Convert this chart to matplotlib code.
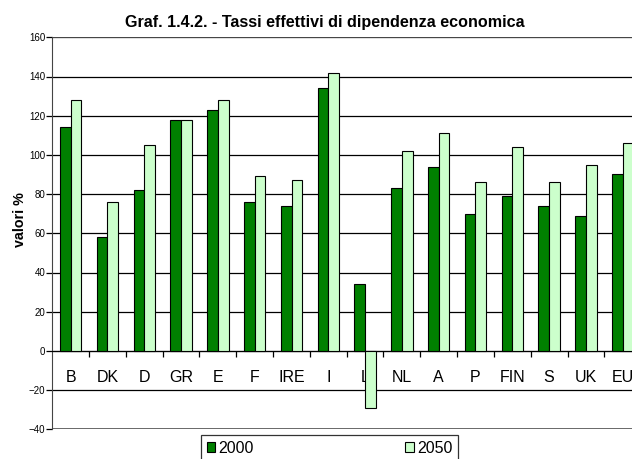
import matplotlib
matplotlib.use("Agg")
import matplotlib.pyplot as plt
import numpy as np
from matplotlib.ticker import MultipleLocator, FixedLocator

plt.rcParams['font.family'] = ['Liberation Sans', 'DejaVu Sans']

categories = ["B", "DK", "D", "GR", "E", "F", "IRE", "I", "L", "NL", "A", "P", "FIN", "S", "UK", "EU"]
v2000 = [114, 58, 82, 118, 123, 76, 74, 134, 34, 83, 94, 70, 79, 74, 69, 90]
v2050 = [128, 76, 105, 118, 128, 89, 87, 142, -29, 102, 111, 86, 104, 86, 95, 106]
series_names = ["2000", "2050"]
title = "Graf. 1.4.2. - Tassi effettivi di dipendenza economica"
ylabel = "valori %"

W, H = 632, 459
fig = plt.figure(figsize=(W / 100, H / 100), dpi=100)
left, right = 52.3, 632
top, bottom = 37.3, 429.3
ax = fig.add_axes([left / W, 1 - bottom / H, (right - left) / W, (bottom - top) / H])

x = np.arange(len(categories))
bw = 0.29
b1 = ax.bar(x - bw / 2, v2000, bw, color="#008000", edgecolor="black", linewidth=0.8, zorder=3)
b2 = ax.bar(x + bw / 2, v2050, bw, color="#CCFFCC", edgecolor="black", linewidth=0.8, zorder=3)

cat_w = 36.8
ax.set_xlim(-0.5, -0.5 + (right - left) / cat_w)
ax.set_ylim(-40, 160)
ax.yaxis.set_major_locator(MultipleLocator(20))
ax.grid(axis="y", color="black", linewidth=0.9, zorder=1)
ax.set_axisbelow(True)

for s in ["top", "right"]:
    ax.spines[s].set_visible(False)
ax.spines["bottom"].set_position(("data", 0))
ax.spines["bottom"].set_color("black")
ax.spines["left"].set_color("#444444")
ax.axhline(-40, color="#555555", linewidth=1.2, zorder=2)
ax.axhline(160, color="#555555", linewidth=1.2, zorder=2)

ax.set_xticks(x)
ax.set_xticklabels(categories, fontsize=11.5)
ax.tick_params(axis="x", which="major", length=0, pad=14)
ax.xaxis.set_minor_locator(FixedLocator(np.arange(len(categories)) + 0.5))
ax.tick_params(axis="x", which="minor", length=4, width=0.9, direction="out", color="black")
ax.tick_params(axis="y", labelsize=7, length=4, width=0.9, pad=1, color="black")

fig.text(325 / W, 1 - 27 / H, title, ha="center", va="baseline", fontsize=11.6, fontweight="bold")
fig.text(20 / W, 1 - 220 / H, ylabel, ha="center", va="center", rotation=90, fontsize=10.3, fontweight="bold")

lx0, ltop, lw_, lh = 201, 435, 257, 34
leg = fig.legend([b1, b2], series_names, loc="upper left",
                 bbox_to_anchor=(lx0 / W, 1 - (ltop + lh) / H, lw_ / W, lh / H),
                 mode="expand", ncol=2, frameon=True, fancybox=False,
                 edgecolor="black", fontsize=11.5, handlelength=0.55, handleheight=0.55,
                 handletextpad=0.2, borderpad=0.35, borderaxespad=0)
leg.get_frame().set_linewidth(0.9)

fig.savefig("out.png", dpi=100)
